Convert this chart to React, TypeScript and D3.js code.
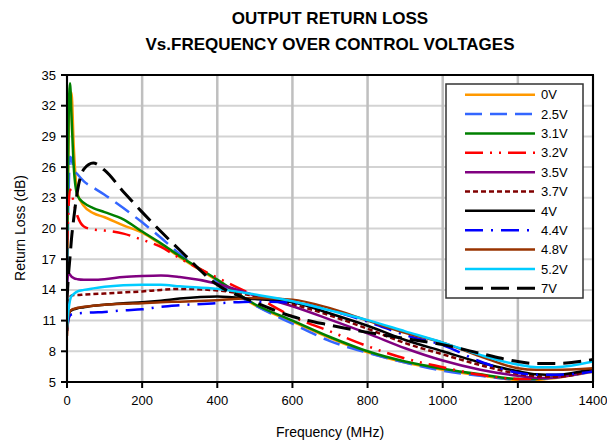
import React from 'react';
import * as d3 from 'd3';

// ---------- data ----------
const freqMHz = [0, 4, 8, 12, 18, 28, 45, 70, 100, 150, 200, 250, 300, 400, 500, 600, 700, 800, 900, 1000, 1100, 1200, 1250, 1300, 1400];

const rl0V = [17.5, 28, 33, 33.3, 28, 23.4, 22.2, 21.5, 21.1, 20.3, 19.6, 18.45, 17.2, 14.9, 12.5, 10.9, 9.3, 7.9, 6.9, 6.2, 5.65, 5.2, 5.2, 5.4, 6.0];
const rl2p5V = [14, 23, 27, 26.8, 25.8, 25.3, 24.6, 24.0, 23.3, 22.0, 20.6, 19.1, 17.5, 14.8, 12.5, 10.7, 9.0, 7.85, 6.9, 6.1, 5.6, 5.25, 5.25, 5.45, 6.0];
const rl3p1V = [16, 30, 34.2, 31, 26, 23.2, 22.5, 22.0, 21.6, 20.9, 19.7, 18.55, 17.3, 15.0, 12.6, 11.0, 9.4, 8.0, 7.0, 6.3, 5.75, 5.3, 5.3, 5.5, 6.1];
const rl3p2V = [18, 22, 23.8, 23.5, 22.5, 21.2, 20.2, 19.9, 19.8, 19.5, 18.9, 18.2, 17.1, 15.2, 13.4, 11.4, 9.95, 8.5, 7.3, 6.45, 5.7, 5.3, 5.3, 5.5, 6.1];
const rl3p5V = [14.5, 15.6, 15.5, 15.3, 15.15, 15.05, 15.0, 15.0, 15.05, 15.25, 15.35, 15.4, 15.25, 14.6, 13.45, 12.4, 11.1, 9.75, 8.3, 7.1, 6.2, 5.6, 5.4, 5.45, 6.1];
const rl3p7V = [11, 12.8, 13.3, 13.45, 13.5, 13.5, 13.55, 13.6, 13.65, 13.75, 13.85, 14.0, 14.1, 13.95, 13.4, 12.6, 11.5, 10.2, 8.8, 7.7, 6.65, 5.8, 5.55, 5.5, 6.2];
const rl4V = [10, 11.5, 11.9, 12.0, 12.1, 12.2, 12.3, 12.45, 12.55, 12.7, 12.8, 12.95, 13.15, 13.35, 13.1, 12.8, 11.7, 10.5, 9.1, 8.0, 6.9, 6.05, 5.75, 5.7, 6.3];
const rl4p4V = [10, 11.1, 11.5, 11.6, 11.65, 11.7, 11.75, 11.8, 11.85, 12.0, 12.1, 12.35, 12.5, 12.7, 12.85, 12.75, 12.0, 10.9, 9.6, 8.6, 7.0, 5.9, 5.7, 5.7, 6.0];
const rl4p8V = [9.5, 11.5, 11.9, 12.05, 12.15, 12.25, 12.35, 12.45, 12.55, 12.65, 12.7, 12.8, 12.85, 13.0, 13.2, 13.05, 12.2, 11.0, 9.8, 8.85, 7.5, 6.35, 6.2, 6.2, 6.35];
const rl5p2V = [10.3, 12.0, 13.0, 13.4, 13.6, 13.85, 14.0, 14.15, 14.3, 14.45, 14.5, 14.5, 14.35, 14.1, 13.55, 12.9, 12.0, 11.05, 9.95, 8.85, 7.65, 6.7, 6.45, 6.45, 7.0];
const rl7V = [13, 15.5, 17.2, 19, 21, 23.7, 25.8, 26.4, 25.7, 23.6, 21.6, 19.7, 17.9, 14.5, 12.8, 11.4, 10.55, 9.85, 9.25, 8.65, 7.8, 7.0, 6.8, 6.8, 7.2];

const seriesNames = ['0V', '2.5V', '3.1V', '3.2V', '3.5V', '3.7V', '4V', '4.4V', '4.8V', '5.2V', '7V'];
const seriesValues = [rl0V, rl2p5V, rl3p1V, rl3p2V, rl3p5V, rl3p7V, rl4V, rl4p4V, rl4p8V, rl5p2V, rl7V];

const xTicks = [0, 200, 400, 600, 800, 1000, 1200, 1400];
const yTicks = [5, 8, 11, 14, 17, 20, 23, 26, 29, 32, 35];

const titleLines = ['OUTPUT RETURN LOSS', 'Vs.FREQUENCY OVER CONTROL VOLTAGES'];
const xTitle = 'Frequency (MHz)';
const yTitle = 'Return Loss (dB)';

// ---------- styles ----------
const seriesStyles = [
  { color: '#FF9900', dash: '', width: 2.5 },
  { color: '#3366FF', dash: '17,8', width: 2.5 },
  { color: '#008000', dash: '', width: 2.5 },
  { color: '#FF0000', dash: '18,7,2,7,2,7', width: 2.5 },
  { color: '#800080', dash: '', width: 2.5 },
  { color: '#800000', dash: '5,3', width: 2.5 },
  { color: '#000000', dash: '', width: 2.5 },
  { color: '#0000FF', dash: '18,8,2,8', width: 2.5 },
  { color: '#993300', dash: '', width: 2.5 },
  { color: '#00CCFF', dash: '', width: 2.5 },
  { color: '#000000', dash: '18,8', width: 3 },
];

const W = 607;
const H = 443;
const PL = 67, PR = 593, PT = 75, PB = 382;
const FONT = '"Liberation Sans", Arial, sans-serif';

export default function App() {
  const x = d3.scaleLinear().domain([0, 1400]).range([PL, PR]);
  const y = d3.scaleLinear().domain([5, 35]).range([PB, PT]);
  const line = d3
    .line<number>()
    .x((_, i) => x(freqMHz[i]))
    .y((d) => y(d))
    .curve(d3.curveMonotoneX);

  const legX = 446, legY = 84, legW = 137, legH = 214;
  const rowY0 = 94.7, rowStep = 19.36;

  return (
    <svg
      width={W}
      height={H}
      viewBox={`0 0 ${W} ${H}`}
      style={{ position: 'absolute', left: 0, top: 0, background: '#fff' }}
      fontFamily={FONT}
    >
      <rect x={0} y={0} width={W} height={H} fill="#fff" />
      <defs>
        <clipPath id="plotClip">
          <rect x={PL} y={PT} width={PR - PL} height={PB - PT} />
        </clipPath>
      </defs>

      {/* title */}
      {titleLines.map((t, i) => (
        <text key={t} x={330} y={24 + i * 26} textAnchor="middle" fontSize={17} fontWeight="bold" fill="#000">
          {t}
        </text>
      ))}

      {/* horizontal grid */}
      {yTicks.map((t) => (
        <line key={'hg' + t} x1={PL} x2={PR} y1={y(t)} y2={y(t)} stroke="#d3d3d3" strokeWidth={2} />
      ))}
      {/* vertical grid */}
      {xTicks.map((t) => (
        <line key={'vg' + t} x1={x(t)} x2={x(t)} y1={PT} y2={PB} stroke="#bfbfbf" strokeWidth={2.5} />
      ))}

      {/* series */}
      <g clipPath="url(#plotClip)">
        {seriesValues.map((vals, i) => (
          <path
            key={seriesNames[i]}
            d={line(vals) || ''}
            fill="none"
            stroke={seriesStyles[i].color}
            strokeWidth={seriesStyles[i].width}
            strokeDasharray={seriesStyles[i].dash || undefined}
            strokeLinejoin="round"
          />
        ))}
      </g>

      {/* frame */}
      <rect x={PL} y={PT} width={PR - PL} height={PB - PT} fill="none" stroke="#000" strokeWidth={2} />

      {/* y ticks */}
      {yTicks.map((t) => (
        <g key={'yt' + t}>
          <line x1={PL - 6} x2={PL} y1={y(t)} y2={y(t)} stroke="#000" strokeWidth={2} />
          <text x={PL - 11} y={y(t)} dy="0.35em" textAnchor="end" fontSize={13} fill="#000">
            {t}
          </text>
        </g>
      ))}
      {/* x ticks */}
      {xTicks.map((t) => (
        <g key={'xt' + t}>
          <line x1={x(t)} x2={x(t)} y1={PB} y2={PB + 6} stroke="#000" strokeWidth={2} />
          <text x={x(t)} y={405} textAnchor="middle" fontSize={13} fill="#000">
            {t}
          </text>
        </g>
      ))}

      {/* axis titles */}
      <text x={330} y={437} textAnchor="middle" fontSize={14} fill="#000">
        {xTitle}
      </text>
      <text transform={`translate(25,228) rotate(-90)`} textAnchor="middle" fontSize={14} fill="#000">
        {yTitle}
      </text>

      {/* legend */}
      <rect x={legX} y={legY} width={legW} height={legH} fill="#fff" stroke="#333" strokeWidth={1.5} />
      {seriesNames.map((n, i) => {
        const ry = rowY0 + i * rowStep;
        const s = seriesStyles[i];
        return (
          <g key={'lg' + n}>
            <line
              x1={465}
              x2={535}
              y1={ry}
              y2={ry}
              stroke={s.color}
              strokeWidth={s.width}
              strokeDasharray={s.dash || undefined}
            />
            <text x={541} y={ry} dy="0.36em" fontSize={13} fill="#000">
              {n}
            </text>
          </g>
        );
      })}
    </svg>
  );
}
